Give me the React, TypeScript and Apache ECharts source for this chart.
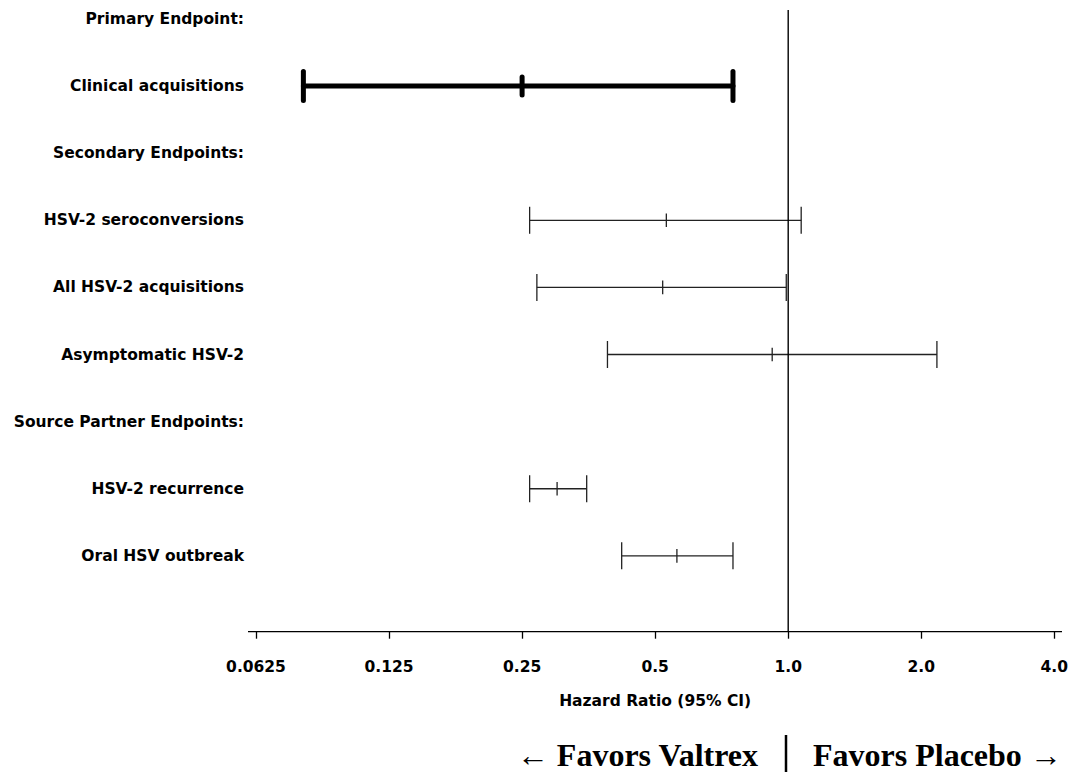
import React, { useEffect, useRef } from "react";
import * as echarts from "echarts";

const rowLabels = [
  "Primary Endpoint:",
  "Clinical acquisitions",
  "Secondary Endpoints:",
  "HSV-2 seroconversions",
  "All HSV-2 acquisitions",
  "Asymptomatic HSV-2",
  "Source Partner Endpoints:",
  "HSV-2 recurrence",
  "Oral HSV outbreak",
];
const endpoints = [
  "Clinical acquisitions",
  "HSV-2 seroconversions",
  "All HSV-2 acquisitions",
  "Asymptomatic HSV-2",
  "HSV-2 recurrence",
  "Oral HSV outbreak",
];
const hazardRatio = [0.25, 0.53, 0.52, 0.92, 0.3, 0.56];
const ciLower = [0.08, 0.26, 0.27, 0.39, 0.26, 0.42];
const ciUpper = [0.75, 1.07, 0.99, 2.17, 0.35, 0.75];
const primaryEndpoints = ["Clinical acquisitions"];
const xTicks = [0.0625, 0.125, 0.25, 0.5, 1, 2, 4];
const xTickLabels = ["0.0625", "0.125", "0.25", "0.5", "1.0", "2.0", "4.0"];
const referenceHR = 1;

const LABEL_FONT = 'bold 15.5px "DejaVu Sans"';

export default function App() {
  const ref = useRef<HTMLDivElement>(null);
  useEffect(() => {
    if (!ref.current) return;
    const chart = echarts.init(ref.current, null, { renderer: "svg" });
    const yMin = -0.133;
    const yMax = 9.13;

    const barData = endpoints.map((name, k) => [
      ciLower[k],
      hazardRatio[k],
      ciUpper[k],
      rowLabels.indexOf(name),
      primaryEndpoints.includes(name) ? 1 : 0,
    ]);
    const labelData = rowLabels.map((_, i) => [xTicks[0], i]);

    const option: any = {
      animation: false,
      backgroundColor: "#ffffff",
      grid: { left: 256, right: 17.7, top: 10, bottom: 143.3 },
      xAxis: {
        type: "log",
        logBase: 2,
        position: "bottom",
        min: xTicks[0],
        max: xTicks[xTicks.length - 1],
        splitNumber: 6,
        axisLine: { show: false, onZero: false },
        axisTick: { show: true, length: 7, lineStyle: { color: "#000", width: 1.3 } },
        splitLine: { show: false },
        axisLabel: {
          margin: 27,
          color: "#000",
          fontFamily: "DejaVu Sans",
          fontWeight: "bold",
          fontSize: 15.5,
          formatter: (v: number) => {
            const idx = xTicks.findIndex((t) => Math.abs(t - v) / t < 1e-6);
            return idx >= 0 ? xTickLabels[idx] : "";
          },
        },
        name: "Hazard Ratio (95% CI)",
        nameLocation: "middle",
        nameGap: 61,
        nameTextStyle: {
          color: "#000",
          fontFamily: "DejaVu Sans",
          fontWeight: "bold",
          fontSize: 15.5,
        },
      },
      yAxis: {
        type: "value",
        inverse: true,
        min: yMin,
        max: yMax,
        show: false,
      },
      graphic: [
        {
          type: "line",
          shape: { x1: 248, y1: 631.7, x2: 1062, y2: 631.7 },
          style: { stroke: "#000", lineWidth: 1.3 },
        },
        {
          type: "text",
          x: 758,
          y: 755,
          style: {
            text: "\u2190 Favors Valtrex",
            textAlign: "right",
            textVerticalAlign: "middle",
            font: 'bold 32px "Liberation Serif"',
            fill: "#000",
          },
        },
        {
          type: "line",
          shape: { x1: 786, y1: 735, x2: 786, y2: 772 },
          style: { stroke: "#000", lineWidth: 2.5 },
        },
        {
          type: "text",
          x: 813,
          y: 755,
          style: {
            text: "Favors Placebo \u2192",
            textAlign: "left",
            textVerticalAlign: "middle",
            font: 'bold 32px "Liberation Serif"',
            fill: "#000",
          },
        },
      ],
      series: [
        {
          type: "line",
          name: "reference",
          data: [
            [referenceHR, yMin],
            [referenceHR, yMax],
          ],
          symbol: "none",
          lineStyle: { color: "#000", width: 1.4 },
          silent: true,
        },
        {
          type: "custom",
          name: "labels",
          clip: false,
          silent: true,
          data: labelData,
          encode: { x: 0, y: 1 },
          renderItem: (params: any, api: any) => {
            const p = api.coord([api.value(0), api.value(1)]);
            return {
              type: "text",
              x: p[0] - 12,
              y: p[1],
              style: {
                text: rowLabels[params.dataIndex],
                textAlign: "right",
                textVerticalAlign: "middle",
                font: LABEL_FONT,
                fill: "#000",
              },
            };
          },
        },
        {
          type: "custom",
          name: "ci",
          clip: false,
          silent: true,
          data: barData,
          encode: { x: [0, 1, 2], y: 3 },
          renderItem: (params: any, api: any) => {
            const row = api.value(3);
            const bold = api.value(4) === 1;
            const lo = api.coord([api.value(0), row]);
            const mid = api.coord([api.value(1), row]);
            const hi = api.coord([api.value(2), row]);
            const lw = bold ? 5 : 1.3;
            const cap = bold ? 14.5 : 13.5;
            const pt = bold ? 9 : 6.8;
            const style = { stroke: bold ? "#000" : "#222", lineWidth: lw, lineCap: bold ? "round" : "butt" };
            const y = lo[1];
            return {
              type: "group",
              children: [
                { type: "line", shape: { x1: lo[0], y1: y, x2: hi[0], y2: y }, style },
                { type: "line", shape: { x1: lo[0], y1: y - cap, x2: lo[0], y2: y + cap }, style },
                { type: "line", shape: { x1: hi[0], y1: y - cap, x2: hi[0], y2: y + cap }, style },
                { type: "line", shape: { x1: mid[0], y1: y - pt, x2: mid[0], y2: y + pt }, style },
              ],
            };
          },
        },
      ],
    };
    chart.setOption(option);
    return () => chart.dispose();
  }, []);
  return (
    <div
      ref={ref}
      style={{ position: "fixed", left: 0, top: 0, width: 1072, height: 775, background: "#fff" }}
    />
  );
}
